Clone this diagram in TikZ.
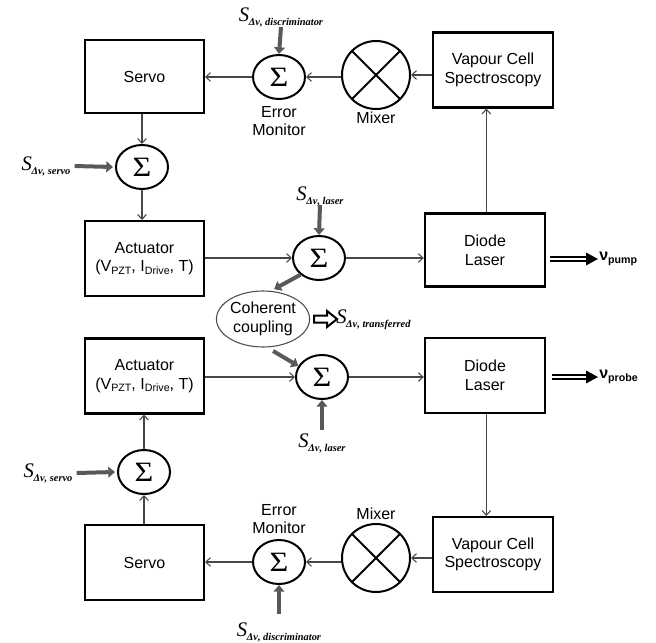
\documentclass[tikz,border=0pt]{standalone}
\usepackage{fontspec}
\setmainfont{Liberation Sans}
\newfontfamily\serif{Liberation Serif}
\usetikzlibrary{arrows.meta,shapes.geometric,calc}
\newcommand{\Slab}[1]{{\serif\itshape\fontsize{15.5}{15.5}\selectfont S}\kern-0.3pt\raisebox{-3pt}{\serif\bfseries\itshape\fontsize{7.8}{7.8}\selectfont Δν, #1}}
\newcommand{\lsub}[1]{\raisebox{-2pt}{\fontsize{8}{8}\selectfont #1}}
\newcommand{\Sig}{\scalebox{1.15}[1]{\serif\fontsize{21}{21}\selectfont Σ}}
\begin{document}
\begin{tikzpicture}[x=0.75pt,y=-0.75pt,
  box/.style={draw=black, line width=1.8pt, minimum width=89pt, minimum height=55pt, align=center, font=\fontsize{12}{14}\selectfont, inner sep=0pt},
  vbox/.style={box, minimum width=90pt, minimum height=56pt},
  sumnode/.style={ellipse, draw=black, line width=1.5pt, minimum width=39pt, minimum height=33pt, inner sep=0pt},
  mixnode/.style={circle, draw=black, line width=1.5pt, minimum size=51pt, inner sep=0pt},
  txt/.style={align=center, font=\fontsize{12}{14}\selectfont, inner sep=0pt},
  conn/.style={draw=black!72, line width=0.8pt, -{Straight Barb[length=3.5pt,width=6.5pt]}},
  thk/.style={draw=black!65, line width=3pt, -{Triangle[length=5pt,width=8pt]}},
  nushaft/.style={draw=black, double=white, double distance=1.8pt, line width=1.2pt},
  slabel/.style={inner sep=0pt}
]
\path[use as bounding box, fill=white] (0,0) rectangle (656,642);

% ---------- top loop ----------
\node[box] (servoT) at (144.5,76.5) {Servo};
\node[sumnode] (errT) at (279,77) {\Sig};
\node[mixnode] (mixT) at (376,75) {};
\draw[line width=1.5pt] (mixT.45) -- (mixT.225) (mixT.135) -- (mixT.315);
\node[vbox] (vapT) at (493,70) {Vapour Cell\\Spectroscopy};
\node[sumnode] (sumsT) at (142,167) {\Sig};
\node[box, minimum height=56pt] (actT) at (144.5,258.5) {Actuator\\(V\lsub{PZT}, I\lsub{Drive}, T)};
\node[sumnode] (lasT) at (319,258) {\Sig};
\node[box, minimum width=90pt] (diodeT) at (485,250) {Diode\\Laser};

\node[txt] (emT) at (279,121) {Error\\Monitor};
\node[txt] (mxlT) at (376,118) {Mixer};

\node[slabel] (sdT) at (281,17) {\Slab{discriminator}};
\node[slabel] (ssT) at (46,166) {\Slab{servo}};
\node[slabel] (slT) at (320,196) {\Slab{laser}};

\draw[conn] (vapT.west |- mixT) -- (mixT.east);
\draw[conn] (mixT.west |- errT) -- (errT.east);
\draw[conn] (errT.west) -- (errT.west -| servoT.east);
\draw[conn] (sumsT.north |- servoT.south) -- (sumsT.north);
\draw[conn] (sumsT.south) -- (sumsT.south |- actT.north);
\draw[conn] (actT.east |- lasT) -- (lasT.west);
\draw[conn] (lasT.east) -- (lasT -| diodeT.west);
\draw[conn] ([xshift=1pt]diodeT.north) -- ([xshift=1pt]diodeT.north |- vapT.south);

\draw[thk] (sdT.south |- 0,27) -- (errT.north);
\draw[thk] ([xshift=3pt]ssT.east) -- ([xshift=-1.5pt]sumsT.west);
\draw[thk] (slT.south |- 0,205) -- (lasT.north);

\node[inner sep=0pt, anchor=west] (nupump) at (599,259) {\fontsize{12}{12}\selectfont\bfseries ν\lsub{pump}};
\draw[nushaft] (550,259) -- ($(nupump.west)+(-10,0)$);
\fill ($(nupump.west)+(-13,-6.5)$) -- ($(nupump.west)+(-1,0)$) -- ($(nupump.west)+(-13,6.5)$) -- cycle;

% ---------- coupling ----------
\node[ellipse, draw=black!70, line width=0.8pt, minimum width=67.5pt, minimum height=42pt, align=center, font=\fontsize{12}{14}\selectfont, inner sep=0pt] (coh) at (263,319) {Coherent\\coupling};
\node[slabel, anchor=west] (sx) at (336,320) {\Slab{transferred}};
\draw[thk] (lasT.222) -- ($(coh.70)+(1,-2)$);

% ---------- bottom loop ----------
\node[box, minimum height=56pt] (actB) at (144.5,376) {Actuator\\(V\lsub{PZT}, I\lsub{Drive}, T)};
\node[sumnode] (lasB) at (322,377) {\Sig};
\node[box, minimum width=90pt, minimum height=56pt] (diodeB) at (485,375.5) {Diode\\Laser};
\node[sumnode] (sumsB) at (144,472) {\Sig};
\node[box, minimum height=56pt] (servoB) at (144.5,562.5) {Servo};
\node[sumnode] (errB) at (279,562) {\Sig};
\node[mixnode] (mixB) at (376,558) {};
\draw[line width=1.5pt] (mixB.45) -- (mixB.225) (mixB.135) -- (mixB.315);
\node[vbox] (vapB) at (493,554.5) {Vapour Cell\\Spectroscopy};

\node[txt] (emB) at (279,519) {Error\\Monitor};
\node[txt] (mxlB) at (376,514) {Mixer};

\node[slabel] (slB) at (322,443) {\Slab{laser}};
\node[slabel] (ssB) at (48,473) {\Slab{servo}};
\node[slabel] (sdB) at (279,632) {\Slab{discriminator}};

\draw[thk] ($(coh.-72)+(1,4)$) -- (lasB.155);
\draw[conn] (actB.east |- lasB) -- (lasB.west);
\draw[conn] (lasB.east) -- (lasB -| diodeB.west);
\draw[conn] ([xshift=1pt]diodeB.south) -- ([xshift=1pt]diodeB.south |- vapB.north);
\draw[conn] (vapB.west |- mixB) -- (mixB.east);
\draw[conn] (mixB.west |- errB) -- (errB.east);
\draw[conn] (errB.west) -- (errB.west -| servoB.east);
\draw[conn] (sumsB.south |- servoB.north) -- (sumsB.south);
\draw[conn] (sumsB.north) -- (sumsB.north |- actB.south);

\draw[thk] (slB.north |- 0,430) -- (lasB.south);
\draw[thk] ([xshift=3pt]ssB.east) -- ([xshift=-1.5pt]sumsB.west);
\draw[thk] (sdB.north |- 0,614) -- (errB.south);

\node[inner sep=0pt, anchor=west] (nuprobe) at (599,377) {\fontsize{12}{12}\selectfont\bfseries ν\lsub{probe}};
\draw[nushaft] (552,377) -- ($(nuprobe.west)+(-10,0)$);
\fill ($(nuprobe.west)+(-13,-6.5)$) -- ($(nuprobe.west)+(-1,0)$) -- ($(nuprobe.west)+(-13,6.5)$) -- cycle;

% hollow arrow
\draw[line width=1.5pt, fill=white] ($(coh.east)+(4,-3.5)$) -- ++(13,0) -- ++(0,-4.5) -- ++(10,8) -- ++(-10,8) -- ++(0,-4.5) -- ++(-13,0) -- cycle;
\end{tikzpicture}
\end{document}
